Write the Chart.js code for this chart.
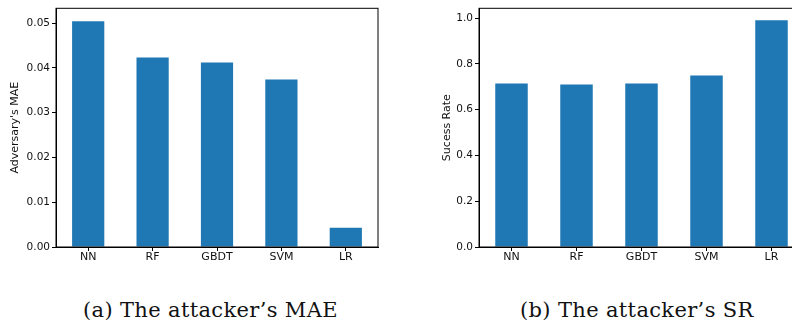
<!DOCTYPE html>
<html>
<head>
<meta charset="utf-8">
<script src="https://cdn.jsdelivr.net/npm/chart.js@4"></script>
<style>
  html, body { margin: 0; padding: 0; background: #fff; }
  body { width: 792px; height: 329px; position: relative; overflow: hidden; }
  .box { position: absolute; top: 0; height: 270px; }
  #boxA { left: 0; width: 390px; }
  #boxB { left: 396px; width: 420px; }
  .cap {
    position: absolute; top: 297px; line-height: 26px;
    font-family: "DejaVu Serif", serif;
    font-size: 21px; letter-spacing: 0.35px; color: #111; white-space: nowrap;
  }
</style>
</head>
<body>
<div class="box" id="boxA"><canvas id="chartMae"></canvas></div>
<div class="box" id="boxB"><canvas id="chartSr"></canvas></div>
<div class="cap" style="left:83px">(a) The attacker’s MAE</div>
<div class="cap" style="left:520px">(b) The attacker’s SR</div>
<script>
const models = ["NN", "RF", "GBDT", "SVM", "LR"];
const maeValues = [0.0504, 0.0423, 0.0412, 0.0374, 0.0043];
const srValues = [0.714, 0.710, 0.714, 0.749, 0.991];
const maeTicks = [0, 0.01, 0.02, 0.03, 0.04, 0.05];
const srTicks = [0, 0.2, 0.4, 0.6, 0.8, 1.0];

const BAR = "#1f77b4";
const TICK_FONT = { family: "DejaVu Sans", size: 10.5 };
const CAT_FONT = { family: "DejaVu Sans", size: 11 };

// full box round the plot, like matplotlib spines
const frame = {
  id: "frame",
  afterDraw(chart) {
    const { ctx, chartArea: a } = chart;
    ctx.save();
    ctx.strokeStyle = "#000";
    ctx.lineWidth = 1;
    ctx.strokeRect(a.left, a.top, a.right - a.left, a.bottom - a.top);
    ctx.restore();
  }
};

function buildChart(canvasId, values, ticks, max, digits, title, padLeft, yWidth) {
  const ctx = document.getElementById(canvasId);
  return new Chart(ctx, {
    type: "bar",
    data: {
      labels: models,
      datasets: [{
        data: values,
        backgroundColor: BAR,
        barPercentage: 0.5,
        categoryPercentage: 1
      }]
    },
    options: {
      responsive: true,
      maintainAspectRatio: false,
      animation: false,
      layout: { padding: { top: 5, right: 12, left: padLeft, bottom: 0 } },
      plugins: { legend: { display: false }, tooltip: { enabled: false } },
      scales: {
        x: {
          grid: { offset: false, drawOnChartArea: false, color: "#000", tickLength: 4 },
          border: { color: "#000" },
          ticks: { color: "#111", font: CAT_FONT, padding: 0 },
          afterFit(s) { s.height = 23; }
        },
        y: {
          min: 0,
          max: max,
          afterBuildTicks(s) { s.ticks = ticks.map(v => ({ value: v })); },
          grid: { drawOnChartArea: false, color: "#000", tickLength: 4 },
          border: { color: "#000" },
          ticks: {
            color: "#111", font: TICK_FONT, padding: 2,
            callback: v => Number(v).toFixed(digits)
          },
          title: { display: true, text: title, color: "#111", font: CAT_FONT, padding: 2 },
          afterFit(s) { s.width = yWidth; }
        }
      }
    },
    plugins: [frame]
  });
}

buildChart("chartMae", maeValues, maeTicks, 0.0533, 2, "Adversary's MAE", 7, 49);
buildChart("chartSr", srValues, srTicks, 1.043, 1, "Sucess Rate", 43, 40);
</script>
</body>
</html>
